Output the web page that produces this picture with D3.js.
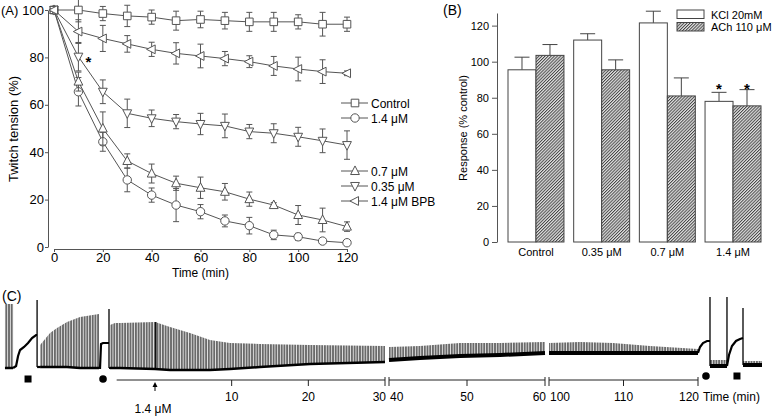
<!DOCTYPE html>
<html><head><meta charset="utf-8">
<script src="https://cdn.jsdelivr.net/npm/d3@7"></script>
<style>body{margin:0;background:#fff}svg{display:block;font-family:"Liberation Sans",Arial,sans-serif}</style>
</head><body><svg id="c" width="772" height="417"></svg>
<script>
// ---------- Panel A data ----------
const timeA = [0,10,20,30,40,50,60,70,80,90,100,110,120];
const controlA = [100,100,98.5,97.5,97,95.5,96,95.5,95,95,95,94,94];
const controlErr = [0,5,3,4.5,3,4,3.5,3.5,4,4,3,5,3];
const conc14A = [100,65.5,44.4,28.3,21.9,17.7,14.9,11,9,5.1,4.3,2.5,1.8];
const conc14Err = [0,6,4,5,3,7,3,2.5,3.5,2,1.5,1,1];
const conc07A = [100,69.8,50,36.3,31,26.9,25,23.3,20.2,17.7,13.5,11.4,8.6];
const conc07Err = [0,4,7,3,4,3,4.5,3.5,3,1,4,5,2];
const conc035A = [100,80.3,65.5,56.4,54.3,52.9,51.9,51.1,48.7,48,46.5,44.8,43];
const conc035Err = [0,6,5,6,3.5,3,4.5,5,3,4,4,5,6];
const bpbA = [100,90.9,88,85.7,83.4,81.7,80.6,79.5,78.2,76.4,75.1,74,73.3];
const bpbErr = [0,5,5.5,3.5,3,4.5,5,3,2.5,4,5,5,1];
const seriesNamesA = ["Control","1.4 \u03bcM","0.7 \u03bcM","0.35 \u03bcM","1.4 \u03bcM BPB"];
const xTicksA = [0,20,40,60,80,100,120];
const yTicksA = [0,20,40,60,80,100];

// ---------- Panel B data ----------
const groupsB = ["Control","0.35 \u03bcM","0.7 \u03bcM","1.4 \u03bcM"];
const kclB = [95.5,112,121.5,78];
const kclErrB = [7,3.5,6.5,5];
const achB = [103.5,95.5,81,75.5];
const achErrB = [6,5.5,10,9];
const legendB = ["KCl  20mM","ACh 110 \u03bcM"];
const yTicksB = [0,20,40,60,80,100,120];

// ---------- Panel C data (time in min, tension in arbitrary units) ----------
// twitch blocks: [time, top of twitches, baseline]
const twitchBlocks = [
  {seg:0, pts:[[-19.57,66,2],[-18.51,66,2]]},
  {seg:0, pts:[[-14.99,25,3],[-13.69,37,3],[-12.78,42,3],[-11.47,48,3],[-9.78,53,2],[-7.30,56,2]]},
  {seg:0, pts:[[-5.87,45,2],[-5.22,47,2],[-4.56,47,2],[0,48,1],[1.96,43,0],[4.56,37,0],[7.17,30,0],[9.78,27,1],[13.69,26,3],[20.21,25,6],[30,24,8]]},
  {seg:1, pts:[[40,23,10],[43.97,24,12],[49.10,27,14],[54.23,27,15],[60,28,17]]},
  {seg:2, pts:[[100,27,17],[104.16,28,17],[108.59,27,17],[113.56,24,17],[120,21,17]]},
  {seg:2, pts:[[121.61,10,4],[123.89,10,4]]},
  {seg:2, pts:[[126.04,9,5],[128.59,9,5]]}
];
// contractures (thick black curves)
const contractures = [
  {seg:0, pts:[[-18.51,2],[-18.12,4],[-17.86,14],[-17.6,20],[-17.08,23],[-16.56,27],[-16.04,32],[-15.51,35],[-15.38,35]]},
  {seg:0, pts:[[-15.38,3],[-14.99,3]]},
  {seg:0, pts:[[-7.30,2],[-7.17,2],[-7.04,26],[-6.78,27],[-6.13,27],[-6.0,27]]},
  {seg:0, pts:[[-6.0,2],[-5.87,2]]},
  {seg:2, pts:[[120,17],[120.27,23],[120.67,27],[121.21,29],[121.61,29]]},
  {seg:2, pts:[[123.89,4],[124.16,15],[124.56,24],[125.1,29],[125.64,31],[126.04,32]]}
];
// washout spikes (thin vertical lines): [seg, time, low, high]
const spikes = [[0,-15.38,3,70],[0,-6.0,2,61],[0,0.1,1,48],[2,121.61,4,73],[2,123.89,4,73],[2,126.04,5,62]];
// agonist markers: [seg, time, type]
const markersC = [[0,-16.56,"sq"],[0,-6.78,"ci"],[2,121.07,"ci"],[2,125.23,"sq"]];
const axisSegs = [[-5,30],[40,60],[100,120]];
const tickLabelsC = [[0,10],[0,20],[0,30],[1,40],[1,50],[1,60],[2,100],[2,110],[2,120]];

// ================= drawing =================
const svg = d3.select("#c");
const defs = svg.append("defs");
const tw = defs.append("pattern").attr("id","tw").attr("patternUnits","userSpaceOnUse")
  .attr("width",2.7).attr("height",10);
tw.append("rect").attr("width",2.7).attr("height",10).attr("fill","#f4f4f4");
tw.append("rect").attr("width",1.9).attr("height",10).attr("fill","#6a6a6a");
const hatch = defs.append("pattern").attr("id","hatch").attr("patternUnits","userSpaceOnUse")
  .attr("width",2.2).attr("height",2.2).attr("patternTransform","rotate(45)");
hatch.append("rect").attr("width",2.2).attr("height",2.2).attr("fill","#e2e2e2");
hatch.append("line").attr("x1",0.5).attr("y1",0).attr("x2",0.5).attr("y2",2.2)
  .attr("stroke","#3a3a3a").attr("stroke-width",0.9);

function shape(type){
  const s=4.4;
  if(type==="sq") return "M-3.8,-3.8h7.6v7.6h-7.6Z";
  if(type==="ci"){const r=4.2;return `M${r},0A${r},${r} 0 1,1 ${-r},0A${r},${r} 0 1,1 ${r},0Z`;}
  if(type==="up") return `M0,${-s*1.15}L${s},${s*0.8}L${-s},${s*0.8}Z`;
  if(type==="dn") return `M0,${s*1.15}L${s},${-s*0.8}L${-s},${-s*0.8}Z`;
  if(type==="lt") return `M${-s*1.15},0L${s*0.8},${-s}L${s*0.8},${s}Z`;
}

// ---------- Panel A ----------
const xA = d3.scaleLinear().domain([0,120]).range([54,347]);
const yA = d3.scaleLinear().domain([0,100]).range([247,10]);
const gA = svg.append("g");
const ax1 = gA.append("g").attr("transform","translate(48,0)")
  .call(d3.axisLeft(yA).tickValues(yTicksA).tickSize(3).tickPadding(1).tickSizeOuter(0));
const ax2 = gA.append("g").attr("transform","translate(0,249)")
  .call(d3.axisBottom(xA).tickValues(xTicksA).tickSize(3).tickPadding(1).tickSizeOuter(0));
[ax1,ax2].forEach(a=>{a.selectAll("path,line").attr("stroke","#555");
  a.selectAll("text").attr("font-size",13).attr("fill","#000").attr("font-family","Liberation Sans, Arial");});
gA.append("text").attr("x",1).attr("y",15).attr("font-size",13).text("(A)");
gA.append("text").attr("transform","translate(18,129) rotate(-90)").attr("text-anchor","middle")
  .attr("font-size",13).text("Twitch tension (%)");
gA.append("text").attr("x",xA(60)).attr("y",277).attr("text-anchor","middle").attr("font-size",12).text("Time (min)");

const seriesA = [
  {v:controlA,e:controlErr,s:"sq"},
  {v:conc14A,e:conc14Err,s:"ci"},
  {v:conc07A,e:conc07Err,s:"up"},
  {v:conc035A,e:conc035Err,s:"dn"},
  {v:bpbA,e:bpbErr,s:"lt"}
];
const col="#555";
const line = d3.line().x(d=>xA(d[0])).y(d=>yA(d[1]));
seriesA.forEach(S=>{
  const pts = timeA.map((t,i)=>[t,S.v[i],S.e[i]]);
  gA.append("path").attr("d",line(pts)).attr("fill","none").attr("stroke",col).attr("stroke-width",1);
  pts.forEach(p=>{
    if(p[2]<=0) return;
    const x=xA(p[0]), y1=yA(p[1]+p[2]), y2=yA(p[1]-p[2]);
    gA.append("path").attr("d",`M${x},${y1}V${y2}M${x-3},${y1}h6M${x-3},${y2}h6`)
      .attr("stroke",col).attr("stroke-width",1).attr("fill","none");
  });
  gA.selectAll(null).data(pts).enter().append("path")
    .attr("transform",d=>`translate(${xA(d[0])},${yA(d[1])})`).attr("d",shape(S.s))
    .attr("fill","#fff").attr("stroke",col).attr("stroke-width",1);
});
gA.append("text").attr("x",xA(10)+10).attr("y",yA(conc035A[1])+10).attr("text-anchor","middle")
  .attr("font-size",15).attr("font-weight","bold").text("*");
// legend A
const legYA=[103,118,171,186,201];
seriesA.forEach((S,i)=>{
  const y=legYA[i];
  gA.append("line").attr("x1",341).attr("x2",368).attr("y1",y).attr("y2",y).attr("stroke",col);
  gA.append("path").attr("transform",`translate(355,${y})`).attr("d",shape(S.s)).attr("fill","#fff").attr("stroke",col);
  gA.append("text").attr("x",371).attr("y",y+4.5).attr("font-size",12).text(seriesNamesA[i]);
});

// ---------- Panel B ----------
const gB = svg.append("g");
const xB = d3.scaleBand().domain(groupsB).range([508,761]).paddingInner(0.148);
const subB = d3.scaleBand().domain(["KCl","ACh"]).range([0,xB.bandwidth()]);
const yB = d3.scaleLinear().domain([0,127]).range([242,13]);
const axB = gB.append("g").attr("transform","translate(497,0)")
  .call(d3.axisLeft(yB).tickValues(yTicksB).tickSize(5).tickSizeOuter(0));
axB.selectAll("path,line").attr("stroke","#555");
axB.selectAll("text").attr("font-size",11).attr("fill","#000").attr("font-family","Liberation Sans, Arial");
gB.append("text").attr("x",443).attr("y",15).attr("font-size",14).text("(B)");
gB.append("text").attr("transform","translate(467,128) rotate(-90)").attr("text-anchor","middle")
  .attr("font-size",11).text("Response (% control)");
groupsB.forEach((g,i)=>{
  [["KCl",kclB[i],kclErrB[i],"#fff"],["ACh",achB[i],achErrB[i],"url(#hatch)"]].forEach(b=>{
    const x=xB(g)+subB(b[0]), w=subB.bandwidth(), cx=x+w/2;
    gB.append("line").attr("x1",cx).attr("x2",cx).attr("y1",yB(b[1])).attr("y2",yB(b[1]+b[2])).attr("stroke","#444");
    gB.append("line").attr("x1",cx-7.5).attr("x2",cx+7.5).attr("y1",yB(b[1]+b[2])).attr("y2",yB(b[1]+b[2])).attr("stroke","#444");
    gB.append("rect").attr("x",x).attr("y",yB(b[1])).attr("width",w).attr("height",yB(0)-yB(b[1]))
      .attr("fill",b[3]).attr("stroke","#444").attr("stroke-width",1);
  });
  gB.append("text").attr("x",xB(g)+xB.bandwidth()/2).attr("y",256).attr("text-anchor","middle")
    .attr("font-size",11).text(g);
});
const last=groupsB[3];
["KCl","ACh"].forEach(k=>{
  gB.append("text").attr("x",xB(last)+subB(k)+subB.bandwidth()/2).attr("y",yB(84.5)+4)
    .attr("text-anchor","middle").attr("font-size",15).attr("font-weight","bold").text("*");
});
legendB.forEach((t,i)=>{
  const y=10+i*12.5;
  gB.append("rect").attr("x",677).attr("y",y).attr("width",27).attr("height",8.5)
    .attr("fill",i?"url(#hatch)":"#fff").attr("stroke","#444");
  gB.append("text").attr("x",711).attr("y",y+8.5).attr("font-size",11).text(t);
});

// ---------- Panel C ----------
const gC = svg.append("g");
const xsC = [
  d3.scaleLinear().domain([0,30]).range([155,385]),
  d3.scaleLinear().domain([40,60]).range([389,545]),
  d3.scaleLinear().domain([100,120]).range([549,698])
];
const yC = d3.scaleLinear().domain([0,80]).range([370,290]);
gC.append("text").attr("x",2).attr("y",301).attr("font-size",14).text("(C)");
twitchBlocks.forEach(b=>{
  const xs=xsC[b.seg];
  gC.append("path").attr("d",d3.area().x(d=>xs(d[0])).y0(d=>yC(d[2])).y1(d=>yC(d[1]))(b.pts))
    .attr("fill","url(#tw)");
  gC.append("path").attr("d",d3.line().x(d=>xs(d[0])).y(d=>yC(d[2]))(b.pts))
    .attr("fill","none").attr("stroke","#000").attr("stroke-width",b.seg===0?2.5:4);
});
contractures.forEach(c=>{
  const xs=xsC[c.seg];
  gC.append("path").attr("d",d3.line().x(d=>xs(d[0])).y(d=>yC(d[1]))(c.pts))
    .attr("fill","none").attr("stroke","#000").attr("stroke-width",2.2);
});
spikes.forEach(s=>{
  const x=xsC[s[0]](s[1]);
  gC.append("line").attr("x1",x).attr("x2",x).attr("y1",yC(s[2])).attr("y2",yC(s[3]))
    .attr("stroke","#000").attr("stroke-width",1.3);
});
markersC.forEach(m=>{
  const x=xsC[m[0]](m[1]), y=m[0]===0?379:376;
  if(m[2]==="sq") gC.append("rect").attr("x",x-3.5).attr("y",y-3.5).attr("width",7).attr("height",7).attr("fill","#000");
  else gC.append("circle").attr("cx",x).attr("cy",y).attr("r",3.8).attr("fill","#000");
});
const axY=380;
axisSegs.forEach((d,i)=>{
  const xs=xsC[i];
  gC.append("line").attr("x1",xs(d[0])).attr("x2",xs(d[1])).attr("y1",axY).attr("y2",axY).attr("stroke","#222");
});
tickLabelsC.forEach(([s,t])=>{
  const xs=xsC[s], x=xs(t);
  const isEnd = axisSegs[s][0]===t||axisSegs[s][1]===t;
  gC.append("line").attr("x1",x).attr("x2",x).attr("y1",isEnd?axY-3:axY).attr("y2",axY+6).attr("stroke","#222");
  let anchor="middle", dx=0;
  if(isEnd){ if(axisSegs[s][0]===t){anchor="start";dx=1;} else {anchor="end";dx=1;} }
  gC.append("text").attr("x",x+dx).attr("y",401).attr("text-anchor",anchor).attr("font-size",12).text(t);
});
const xa=xsC[0](0);
gC.append("line").attr("x1",xa).attr("x2",xa).attr("y1",385).attr("y2",391).attr("stroke","#000");
gC.append("path").attr("d",`M${xa},382L${xa-2.5},387L${xa+2.5},387Z`).attr("fill","#000");
gC.append("text").attr("x",xa-2).attr("y",413).attr("text-anchor","middle").attr("font-size",12).text("1.4 \u03bcM");
gC.append("text").attr("x",703).attr("y",401).attr("font-size",12).text("Time (min)");
</script></body></html>
